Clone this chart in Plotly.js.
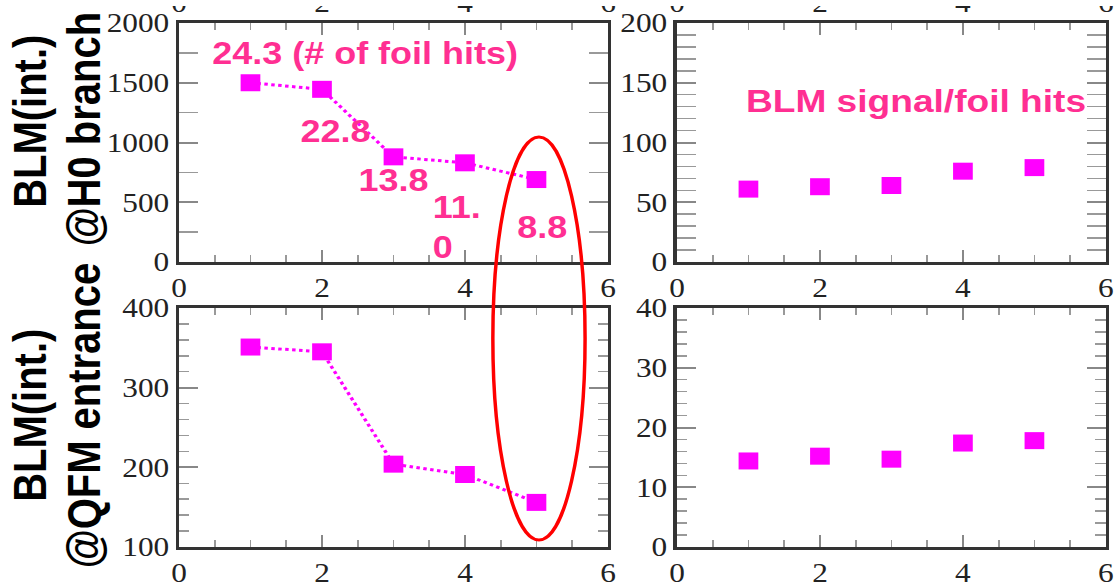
<!DOCTYPE html>
<html>
<head>
<meta charset="utf-8">
<script src="https://cdn.plot.ly/plotly-3.0.1.min.js"></script>
<style>
  html, body { margin: 0; padding: 0; background: #ffffff; overflow: hidden; }
  #chart { width: 962px; height: 585px; transform: scaleX(1.16); transform-origin: 0 0; }
</style>
</head>
<body>
<div id="chart"></div>
<script>
// ---- data ----
const xVals = [1, 2, 3, 4, 5];
const blmH0 = [1500, 1445, 880, 830, 690];          // BLM(int.) @H0 branch
const ratioH0 = [61, 63, 64, 76, 79];               // BLM signal / foil hits (H0 branch)
const blmQFM = [351, 345, 204, 191, 156];           // BLM(int.) @QFM entrance
const ratioQFM = [14.4, 15.2, 14.7, 17.4, 17.8];    // BLM signal / foil hits (QFM entrance)
const foilHitLabels = ['24.3 (# of foil hits)', '22.8', '13.8', '11.<br>0', '8.8'];
const xTickVals = [0, 2, 4, 6];
const xTickText = ['0', '2', '4', '6'];

// ---- styling ----
const MAG = '#ff00ff';
const PINK = '#ff2f92';
const tickFont = { family: 'Liberation Serif, Times New Roman, serif', size: 27, color: '#222' };
const W = 1116, H = 585;
const dom = {
  xl: [179 / W, 608 / W], xr: [677 / W, 1106 / W],
  yt: [1 - 262 / H, 1 - 23 / H], yb: [1 - 547 / H, 1 - 308 / H]
};

function xAxis(domain, anchor) {
  return {
    domain: domain, anchor: anchor, range: [0, 6],
    tickvals: xTickVals, ticktext: xTickText,
    ticks: 'inside', ticklen: 12, tickwidth: 2, tickcolor: '#888',
    minor: { dtick: 0.5, ticks: 'inside', ticklen: 7, tickwidth: 1.5, tickcolor: '#999', showgrid: false },
    showline: true, linecolor: '#333', linewidth: 3, mirror: 'allticks',
    showgrid: false, zeroline: false, tickfont: tickFont, fixedrange: true
  };
}
function yAxis(domain, anchor, range, dtick, minorDtick) {
  return {
    domain: domain, anchor: anchor, range: range, dtick: dtick, tick0: 0,
    ticks: 'inside', ticklen: 16, tickwidth: 2, tickcolor: '#888',
    minor: { dtick: minorDtick, ticks: 'inside', ticklen: 9, tickwidth: 1.5, tickcolor: '#999', showgrid: false },
    showline: true, linecolor: '#333', linewidth: 3, mirror: 'allticks',
    showgrid: false, zeroline: false, tickfont: tickFont, fixedrange: true
  };
}
function topLabels(domain, overlay, anchor) {
  return {
    domain: domain, overlaying: overlay, anchor: anchor, side: 'top', range: [0, 6],
    tickvals: xTickVals, ticktext: xTickText, ticks: '', showline: false,
    showgrid: false, zeroline: false, tickfont: tickFont, ticklabelstandoff: 5, fixedrange: true
  };
}

const lineStyle = { color: MAG, width: 3, dash: 'dot' };
const markerStyle = { symbol: 'square', size: 17, color: MAG, line: { width: 0 } };

const traces = [
  { x: xVals, y: blmH0, xaxis: 'x', yaxis: 'y', mode: 'lines+markers', line: lineStyle, marker: markerStyle },
  { x: xVals, y: ratioH0, xaxis: 'x2', yaxis: 'y2', mode: 'markers', marker: markerStyle },
  { x: xVals, y: blmQFM, xaxis: 'x3', yaxis: 'y3', mode: 'lines+markers', line: lineStyle, marker: markerStyle },
  { x: xVals, y: ratioQFM, xaxis: 'x4', yaxis: 'y4', mode: 'markers', marker: markerStyle },
  { x: [], y: [], xaxis: 'x5', yaxis: 'y', mode: 'markers' },
  { x: [], y: [], xaxis: 'x6', yaxis: 'y2', mode: 'markers' }
];

const labelPos = [
  { x: 2.60, y: 1741, xanchor: 'center' },
  { x: 2.19, y: 1096, xanchor: 'center' },
  { x: 2.99, y: 678, xanchor: 'center' },
  { x: 3.52, y: 289, xanchor: 'left' },
  { x: 5.08, y: 285, xanchor: 'center' }
];
const annFont = { family: 'Liberation Sans, Arial, sans-serif', size: 31, color: PINK };
const annotations = foilHitLabels.map((t, i) => ({
  xref: 'x', yref: 'y', x: labelPos[i].x, y: labelPos[i].y,
  xanchor: labelPos[i].xanchor, yanchor: 'middle', align: 'left',
  text: '<b>' + t + '</b>', showarrow: false, font: annFont
}));
annotations.push({
  xref: 'x2', yref: 'y2', x: 3.34, y: 135, xanchor: 'center', yanchor: 'middle',
  text: '<b>BLM signal/foil hits</b>', showarrow: false,
  font: { family: 'Liberation Sans, Arial, sans-serif', size: 32, color: PINK }
});
const titleFont = { family: 'Liberation Sans, Arial, sans-serif', size: 40, color: '#000' };
[
  { t: 'BLM(int.)', x: 30 / W, y: 1 - 121 / H },
  { t: '@H0 branch', x: 84 / W, y: 1 - 129 / H },
  { t: 'BLM(int.)', x: 30 / W, y: 1 - 415 / H },
  { t: '@QFM entrance', x: 84 / W, y: 1 - 415 / H }
].forEach(a => annotations.push({
  xref: 'paper', yref: 'paper', x: a.x, y: a.y, xanchor: 'center', yanchor: 'middle',
  textangle: -90, text: '<b>' + a.t + '</b>', showarrow: false, font: titleFont
}));

const layout = {
  width: 962, height: 585, autosize: false,
  margin: { l: 0, r: 0, t: 0, b: 0, pad: 0 },
  paper_bgcolor: '#ffffff', plot_bgcolor: '#ffffff',
  showlegend: false,
  xaxis: xAxis(dom.xl, 'y'),
  yaxis: yAxis(dom.yt, 'x', [0, 2000], 500, 250),
  xaxis2: xAxis(dom.xr, 'y2'),
  yaxis2: yAxis(dom.yt, 'x2', [0, 200], 50, 10),
  xaxis3: xAxis(dom.xl, 'y3'),
  yaxis3: yAxis(dom.yb, 'x3', [100, 400], 100, 20),
  xaxis4: xAxis(dom.xr, 'y4'),
  yaxis4: yAxis(dom.yb, 'x4', [0, 40], 10, 2),
  xaxis5: topLabels(dom.xl, 'x', 'y'),
  xaxis6: topLabels(dom.xr, 'x2', 'y2'),
  annotations: annotations,
  shapes: [
    {
      type: 'circle', xref: 'x', yref: 'paper', layer: 'above',
      x0: 4.39, x1: 5.68, y0: 1 - 540 / H, y1: 1 - 137 / H,
      line: { color: '#ff0000', width: 3 }
    },
    {
      // the reference is cropped at its top edge: only the feet of the top tick labels show
      type: 'rect', xref: 'paper', yref: 'paper', layer: 'above',
      x0: 0.13, x1: 1, y0: 1 - 6 / H, y1: 1,
      fillcolor: '#ffffff', line: { width: 0 }
    }
  ]
};

Plotly.newPlot('chart', traces, layout, { displayModeBar: false, staticPlot: true });
</script>
</body>
</html>
